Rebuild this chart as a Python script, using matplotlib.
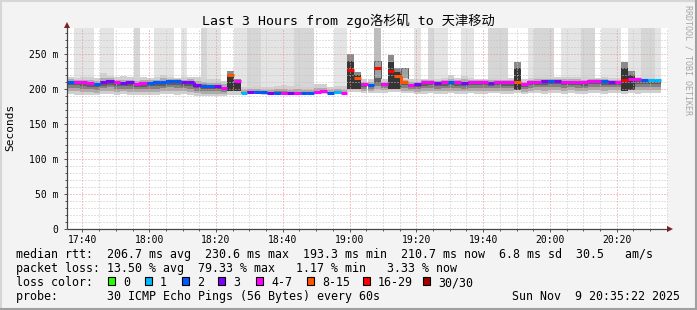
import matplotlib
matplotlib.use("Agg")
import matplotlib.pyplot as plt
from matplotlib.patches import Rectangle
from matplotlib.lines import Line2D
from matplotlib.collections import LineCollection

# ---------------- data ----------------
START_MIN = 17 * 60 + 35 + 22 / 60.0   # 17:35:22
SPAN_MIN = 180
STEP_MIN = 2

median_ms = [211, 211, 210, 208.5, 207, 210, 212, 210, 208.5, 210,
             207.5, 208.5, 209, 210, 210, 212, 212, 210, 210, 206,
             205, 204, 205, 202, 220, 212, 195, 196.5, 196.5, 195.5,
             194, 195, 195, 195, 194, 194, 195, 196, 197.5, 195,
             196.5, 195, 228, 216, 207, 206, 231, 208, 226, 219,
             210, 206, 207, 210, 210, 209, 210, 210, 210, 209,
             210, 211, 211, 209, 210, 210, 210, 211, 207, 210,
             211, 212, 212, 212, 211, 211, 211, 210, 212, 212,
             212, 211, 211, 213, 215, 214, 212.5, 212.5, 212.5]

loss_idx = [2, 4, 4, 4, 2, 3, 3, 4, 3, 3,
            4, 4, 2, 2, 2, 2, 2, 3, 3, 3,
            2, 2, 3, 4, 5, 4, 1, 3, 2, 2,
            3, 2, 4, 3, 4, 2, 2, 4, 4, 2,
            1, 4, 6, 5, 4, 2, 6, 4, 6, 5,
            5, 4, 3, 4, 4, 3, 4, 2, 4, 3,
            4, 4, 4, 3, 4, 4, 4, 5, 4, 4,
            4, 3, 2, 3, 4, 4, 4, 4, 4, 4,
            2, 3, 4, 6, 4, 4, 2, 1, 1]

smoke_lo = [193, 192, 192, 191, 191, 193, 193, 192, 193, 192,
            192, 191, 192, 192, 193, 193, 192, 193, 191, 190,
            190, 190, 190, 190, 192, 192, 193, 193, 193, 192,
            192, 192, 192, 192, 192, 192, 192, 193, 193, 193,
            193, 193, 196, 196, 194, 194, 195, 195, 196, 196,
            194, 194, 193, 193, 194, 193, 193, 194, 193, 193,
            194, 193, 193, 194, 194, 193, 193, 194, 193, 194,
            194, 193, 194, 194, 193, 194, 193, 193, 194, 194,
            193, 194, 194, 193, 194, 193, 194, 194, 194]

smoke_hi = [217, 216, 217, 218, 216, 223, 219, 217, 219, 217,
            216, 217, 216, 217, 221, 217, 216, 217, 218, 218,
            215, 214, 214, 212, 214, 212, 203, 203, 204, 203,
            203, 205, 206, 204, 207, 203, 203, 207, 207, 203,
            204, 204, 215, 215, 214, 214, 216, 214, 216, 216,
            216, 214, 214, 215, 215, 215, 216, 220, 216, 219,
            216, 215, 215, 216, 216, 215, 216, 216, 215, 216,
            217, 217, 216, 217, 217, 218, 218, 217, 216, 216,
            217, 216, 216, 217, 218, 217, 216, 216, 215]

spike_dark = [0, 0, 0, 0, 0, 0, 0, 0, 0, 0,
              0, 0, 0, 0, 0, 0, 0, 0, 0, 0,
              0, 0, 0, 0, 226, 214, 0, 0, 0, 0,
              0, 0, 0, 0, 0, 0, 0, 0, 0, 0,
              0, 0, 250, 225, 0, 0, 0, 0, 249, 230,
              0, 0, 0, 0, 0, 0, 0, 0, 0, 0,
              0, 0, 0, 0, 0, 0, 0, 239, 0, 0,
              0, 0, 0, 0, 0, 0, 0, 0, 0, 0,
              0, 0, 0, 239, 226, 0, 0, 0, 0]

spike_gray = [0, 0, 0, 0, 0, 0, 0, 0, 0, 0,
              0, 0, 0, 0, 0, 0, 0, 0, 0, 0,
              0, 0, 0, 0, 0, 0, 0, 0, 0, 0,
              0, 0, 0, 0, 0, 0, 0, 0, 0, 0,
              0, 0, 0, 0, 0, 0, 240, 0, 0, 0,
              231, 0, 0, 0, 0, 0, 0, 0, 0, 0,
              0, 0, 0, 0, 0, 0, 0, 0, 0, 0,
              0, 0, 0, 0, 0, 0, 0, 0, 0, 0,
              0, 0, 0, 0, 0, 0, 0, 0, 0]

tall_level = [0, 1, 1, 1, 0, 1, 1, 0, 0, 0,
              2, 0, 0, 1, 1, 1, 0, 1, 0, 0,
              2, 1, 1, 0, 0, 1, 1, 2, 2, 1,
              1, 1, 1, 1, 2, 2, 2, 0, 0, 0,
              1, 1, 0, 0, 0, 0, 3, 0, 0, 0,
              0, 0, 1, 0, 2, 1, 1, 0, 0, 1,
              1, 0, 0, 2, 2, 2, 0, 0, 0, 1,
              2, 2, 2, 0, 1, 1, 1, 2, 2, 0,
              1, 1, 1, 0, 1, 1, 2, 2, 1]

loss_labels = ["0", "1", "2", "3", "4-7", "8-15", "16-29", "30/30"]
loss_colors = ["#26ff00", "#00b8ff", "#0059ff", "#7e00ff",
               "#ff00ff", "#ff5500", "#ff0000", "#a10000"]

y_ticks = [0, 50, 100, 150, 200, 250]
y_tick_labels = ["0", "50 m", "100 m", "150 m", "200 m", "250 m"]
x_tick_labels = ["17:40", "18:00", "18:20", "18:40", "19:00",
                 "19:20", "19:40", "20:00", "20:20"]

title = "Last 3 Hours from zgo洛杉矶 to 天津移动"
stat_rtt = "median rtt:  206.7 ms avg  230.6 ms max  193.3 ms min  210.7 ms now  6.8 ms sd  30.5   am/s"
stat_loss = "packet loss: 13.50 % avg  79.33 % max   1.17 % min   3.33 % now"
probe_txt = "probe:       30 ICMP Echo Pings (56 Bytes) every 60s"
date_txt = "Sun Nov  9 20:35:22 2025"

# ---------------- layout ----------------
W, H = 697, 310
YMAX = 288
L, R, T, B = 67, 668, 27.7, 229

fig = plt.figure(figsize=(W / 100, H / 100), dpi=100, facecolor="#f3f3f3")
ax = fig.add_axes([L / W, 1 - B / H, (R - L) / W, (B - T) / H])
ax.set_facecolor("white")
ax.set_xlim(START_MIN, START_MIN + SPAN_MIN)
ax.set_ylim(0, YMAX)
for s in ax.spines.values():
    s.set_visible(False)

n = len(median_ms)
xs = [START_MIN + i * STEP_MIN for i in range(n)]

# tall light smoke bars (outliers off the scale)
tall_cols = {1: "#e4e4e4", 2: "#d6d6d6", 3: "#bdbdbd"}
for lev, col in tall_cols.items():
    xi = [xs[i] for i in range(n) if tall_level[i] == lev]
    lo = [smoke_lo[i] for i in range(n) if tall_level[i] == lev]
    ax.bar(xi, [YMAX - v for v in lo], bottom=lo, width=STEP_MIN, align="edge",
           color=col, linewidth=0, zorder=1)

# gray spikes
xi = [xs[i] for i in range(n) if spike_gray[i]]
b = [smoke_lo[i] + 4 for i in range(n) if spike_gray[i]]
tp = [spike_gray[i] for i in range(n) if spike_gray[i]]
ax.bar(xi, [t - bb for t, bb in zip(tp, b)], bottom=b, width=STEP_MIN, align="edge",
       color="#a0a0a0", edgecolor="#333333", linewidth=0.5, zorder=1.2)

# dense smoke layers
layers = [(0.0, 1.0, "#d0d0d0"), (0.25, 0.5, "#acacac"),
          (0.5, 0.18, "#828282"), (0.72, 0.0, "#5e5e5e")]
for flo, fhi, col in layers:
    bots, hts = [], []
    for i in range(n):
        m = min(max(median_ms[i], smoke_lo[i] + 1), smoke_hi[i] - 1)
        lo_v = smoke_lo[i] + flo * (m - smoke_lo[i])
        hi_v = m + fhi * (smoke_hi[i] - m)
        if fhi == 0.0:
            hi_v = m + 0.6
        bots.append(lo_v)
        hts.append(hi_v - lo_v)
    ax.bar(xs, hts, bottom=bots, width=STEP_MIN, align="edge",
           color=col, linewidth=0, zorder=1.5)

# dark spikes
xi = [xs[i] for i in range(n) if spike_dark[i]]
b = [smoke_lo[i] + 5 for i in range(n) if spike_dark[i]]
tp = [spike_dark[i] for i in range(n) if spike_dark[i]]
ax.bar(xi, [t - bb for t, bb in zip(tp, b)], bottom=b, width=STEP_MIN, align="edge",
       color="#8a8a8a", linewidth=0, zorder=1.8)
ax.bar(xi, [0.8 * (t - bb) for t, bb in zip(tp, b)], bottom=b, width=STEP_MIN,
       align="edge", color="#353535", linewidth=0, zorder=1.9)

# grid (drawn over the smoke)
def hm(lbl):
    h, m = lbl.split(":")
    return int(h) * 60 + int(m)

x_major = [hm(l) for l in x_tick_labels]
x_minor = [m for m in range(int(START_MIN) + 1, int(START_MIN + SPAN_MIN) + 1)
           if m % 5 == 0 and m not in x_major]
y_minor = [v for v in range(10, YMAX, 10) if v % 50 != 0]
dots = (0, (1, 2))
for v in y_minor:
    ax.axhline(v, color="#c4c4c4", lw=0.72, ls=dots, zorder=3)
for v in x_minor:
    ax.axvline(v, color="#c4c4c4", lw=0.72, ls=dots, zorder=3)
for v in y_ticks[1:]:
    ax.axhline(v, color="#f08c8c", lw=0.72, ls=dots, zorder=3.1)
for v in x_major:
    ax.axvline(v, color="#f08c8c", lw=0.72, ls=dots, zorder=3.1)

# median line coloured by loss
segs, cols = [], []
for i in range(n):
    x0, x1 = xs[i], xs[i] + STEP_MIN
    if i > 0 and loss_idx[i] == loss_idx[i - 1]:
        segs.append([(x0, median_ms[i - 1]), (x0, median_ms[i]), (x1, median_ms[i])])
    else:
        segs.append([(x0, median_ms[i]), (x1, median_ms[i])])
    cols.append(loss_colors[loss_idx[i]])
ax.add_collection(LineCollection(segs, colors=cols, linewidths=2.2,
                                 capstyle="butt", joinstyle="miter", zorder=4))

# ticks
mono = "DejaVu Sans Mono"
ax.set_yticks(y_ticks)
ax.set_yticklabels(y_tick_labels, family=mono, fontsize=7)
ax.set_yticks(y_minor, minor=True)
ax.set_xticks(x_major)
ax.set_xticklabels(x_tick_labels, family=mono, fontsize=7)
ax.set_xticks(x_minor, minor=True)
ax.tick_params(axis="y", which="major", direction="out", length=2.5, width=0.7,
               color="#555555", pad=3.6)
ax.tick_params(axis="x", which="major", direction="out", length=2.5, width=0.7,
               color="#555555", pad=1.6)
ax.tick_params(which="minor", direction="out", length=1.4, width=0.7, color="#555555")

# axis lines with arrows
pxx = SPAN_MIN / (R - L)
pxy = YMAX / (B - T)
ax.plot([START_MIN, START_MIN + SPAN_MIN + 2 * pxx], [0, 0], color="#444444",
        lw=0.9, clip_on=False, zorder=5, solid_capstyle="butt")
ax.plot([START_MIN, START_MIN], [0, YMAX + 2 * pxy], color="#444444",
        lw=0.9, clip_on=False, zorder=5, solid_capstyle="butt")
ax.plot([START_MIN + SPAN_MIN + 2.5 * pxx], [0], marker=">", ms=4.5, mew=0,
        color="#7f1f1f", clip_on=False, zorder=6)
ax.plot([START_MIN], [YMAX + 2.8 * pxy], marker="^", ms=4.5, mew=0,
        color="#7f1f1f", clip_on=False, zorder=6)

# ---------------- texts ----------------
def fx(x):
    return x / W

def fy(y):
    return 1 - y / H

fig.text(fx(348.5), fy(20.5), title, family=[mono, "Noto Sans CJK SC"],
         fontsize=9.5, ha="center", va="center")
fig.text(fx(10), fy(127), "Seconds", family=mono, fontsize=8, rotation=90,
         ha="center", va="center")
fig.text(fx(688), fy(5), "RRDTOOL / TOBI OETIKER", family=mono, fontsize=6,
         rotation=270, ha="center", va="top", color="#a6a6a6")

LF = 8.4
fig.text(fx(16), fy(258), stat_rtt, family=mono, fontsize=LF, va="baseline")
fig.text(fx(16), fy(272), stat_loss, family=mono, fontsize=LF, va="baseline")
fig.text(fx(16), fy(286), "loss color:", family=mono, fontsize=LF, va="baseline")
fig.text(fx(16), fy(300), probe_txt, family=mono, fontsize=LF, va="baseline")
fig.text(fx(680), fy(300), date_txt, family=mono, fontsize=LF, va="baseline", ha="right")

box_x = [108, 145, 182, 218, 256, 307, 363, 423]
for bx, lbl, col in zip(box_x, loss_labels, loss_colors):
    fig.add_artist(Rectangle((fx(bx), fy(284.5)), 7 / W, 7.5 / H,
                             transform=fig.transFigure, facecolor=col,
                             edgecolor="black", lw=0.8))
    fig.text(fx(bx + 15), fy(286), lbl, family=mono, fontsize=LF, va="baseline")

# frame
fig.add_artist(Line2D([0, 1], [1 - 1 / H, 1 - 1 / H], transform=fig.transFigure,
                      color="#d6d6d6", lw=1.5))
fig.add_artist(Line2D([1 / W, 1 / W], [0, 1], transform=fig.transFigure,
                      color="#d6d6d6", lw=1.5))
fig.add_artist(Line2D([0, 1], [1 / H, 1 / H], transform=fig.transFigure,
                      color="#a0a0a0", lw=1.5))
fig.add_artist(Line2D([1 - 1 / W, 1 - 1 / W], [0, 1], transform=fig.transFigure,
                      color="#a0a0a0", lw=1.5))

fig.savefig("out.png", dpi=100, facecolor=fig.get_facecolor())
